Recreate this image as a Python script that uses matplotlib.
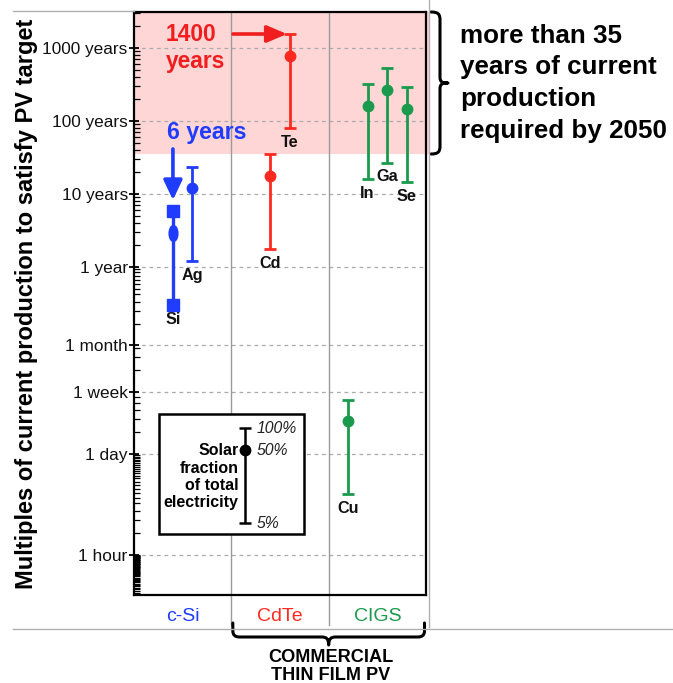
import numpy as np
import matplotlib
matplotlib.use("Agg")
import matplotlib.pyplot as plt
import matplotlib.ticker as mticker
import matplotlib.transforms as mtransforms
from matplotlib.path import Path
from matplotlib.patches import PathPatch, Rectangle
from matplotlib.lines import Line2D

plt.rcParams['font.family'] = ['Liberation Sans', 'DejaVu Sans']

# time units expressed in years
MONTH = 1 / 12
WEEK = 7 / 365.25
DAY = 1 / 365.25
HOUR = 1 / 8766

groups = ['c-Si', 'CdTe', 'CIGS']
group_colors = ['#1f3cff', '#ff2a1f', '#1a9a4c']

elements = ['Si', 'Ag', 'Cd', 'Te', 'Cu', 'In', 'Ga', 'Se']
element_x = [0.40, 0.60, 1.40, 1.60, 2.20, 2.40, 2.60, 2.80]
element_group = [0, 0, 1, 1, 2, 2, 2, 2]
low = [0.296, 1.2, 1.73, 78.7, 0.000769, 15.7, 26.6, 14.6]    # 5% solar fraction
mid = [2.92, 11.9, 17.5, 769, 0.00769, 159, 263, 145]         # 50%
high = [5.85, 23.4, 34.7, 1541, 0.01507, 318, 527, 287]       # 100%

threshold = 35
ylims = (3.18e-5, 3085)

major_ticks = [1000, 100, 10, 1, MONTH, WEEK, DAY, HOUR]
major_labels = ['1000 years', '100 years', '10 years', '1 year',
                '1 month', '1 week', '1 day', '1 hour']

key_fracs = [1.0, 0.5, 0.05]
key_labels = ['100%', '50%', '5%']
key_x = 1.14
key_top = 0.0061

W, H = 673, 683
fig = plt.figure(figsize=(W / 100, H / 100), dpi=100)
ax = fig.add_axes([134 / W, 1 - 595 / H, 292 / W, 583 / H])
# helper: pixel coords measured from top-left of the figure
pxt = mtransforms.Affine2D().scale(1 / W, -1 / H).translate(0, 1) + fig.transFigure

ax.set_yscale('log')
ax.set_ylim(*ylims)
ax.set_xlim(0, 3)
ax.set_axisbelow(True)

# shaded region: more than 35 years
span = ax.axhspan(threshold, ylims[1], xmin=0, xmax=1.012, color='#ffd6d6', lw=0, zorder=0)
span.set_clip_on(False)

# y ticks
ax.yaxis.set_major_locator(mticker.FixedLocator(major_ticks))
ax.yaxis.set_major_formatter(mticker.FixedFormatter(major_labels))
minor = []
minor += [m * 10 ** k for k in range(0, 3) for m in range(2, 10)] + [2000, 3000]
minor += [m * MONTH for m in range(2, 12)]
minor += [w * WEEK for w in range(2, 5)]
minor += [d * DAY for d in range(2, 7)]
minor += [h * HOUR for h in range(2, 24)]
minor += [m * HOUR / 60 for m in range(17, 60)]
ax.yaxis.set_minor_locator(mticker.FixedLocator(minor))
ax.yaxis.set_minor_formatter(mticker.NullFormatter())
ax.tick_params(axis='y', which='major', direction='inout', length=7, width=1.3,
               labelsize=12.4, pad=1, labelcolor='#111111')
ax.tick_params(axis='y', which='minor', direction='in', length=4, width=0.9)
ax.grid(axis='y', which='major', color='#aaaaaa', lw=0.9, linestyle=(0, (3, 3)))

# x categories
ax.set_xticks([0.5, 1.5, 2.5])
ax.set_xticklabels(groups, fontsize=14)
for lab, c in zip(ax.get_xticklabels(), group_colors):
    lab.set_color(c)
ax.tick_params(axis='x', length=0, pad=9.5)

for s in ax.spines.values():
    s.set_linewidth(1.6)

# column separators
for xs in [1, 2]:
    ax.add_line(Line2D([xs, xs], [-0.052, 1], transform=ax.get_xaxis_transform(),
                       color='#9a9a9a', lw=1, clip_on=False, zorder=1))

# element ranges
ellipse = mtransforms.Affine2D().scale(0.55, 1.0).transform_path(Path.unit_circle())
for name, x, g, lo, m, hi in zip(elements, element_x, element_group, low, mid, high):
    c = group_colors[g]
    if name == 'Si':
        ax.plot([x, x], [lo, hi], color=c, lw=2.4, zorder=3)
        ax.plot([x, x], [lo, hi], 's', color=c, ms=8.5, zorder=4)
        ax.plot([x], [m], marker=ellipse, color=c, ms=11.5, lw=0, zorder=4)
    else:
        ax.errorbar([x], [m], yerr=[[m - lo], [hi - m]], fmt='o', color=c, ms=7.5,
                    elinewidth=2, capsize=4.5, capthick=2, zorder=3)
    ax.annotate(name, (x, lo), xytext=(0, -10.3), textcoords='offset points',
                ha='center', va='center', fontsize=11.7, fontweight='bold', color='#111111')

# callouts
ax.text(0.325, 1000, '1400\nyears', color='#f01e1e', fontsize=16.4, fontweight='bold',
        ha='left', va='center', linespacing=1.24)
ax.annotate('', xy=(1.572, high[3]), xytext=(1.017, high[3]),
            arrowprops=dict(arrowstyle='-|>,head_length=0.4,head_width=0.17',
                            mutation_scale=30, lw=2.6, color='#f01e1e',
                            shrinkA=0, shrinkB=0))
ax.text(0.335, 68, '6 years', color='#1f3cff', fontsize=16.7, fontweight='bold',
        ha='left', va='center')
ax.annotate('', xy=(element_x[0], 8.2), xytext=(element_x[0], 41),
            arrowprops=dict(arrowstyle='-|>,head_length=0.4,head_width=0.19',
                            mutation_scale=30, lw=2.6, color='#1f3cff',
                            shrinkA=0, shrinkB=0))

# key box
ax.add_patch(Rectangle((0.0856, 0.1046), 0.4966, 0.2059, transform=ax.transAxes,
                       facecolor='white', edgecolor='black', lw=1.8, zorder=5))
kv = [key_top * f for f in key_fracs]
ax.errorbar([key_x], [kv[1]], yerr=[[kv[1] - kv[2]], [kv[0] - kv[1]]], fmt='o',
            color='black', ms=7.5, elinewidth=1.8, capsize=4.5, capthick=1.8, zorder=6)
for v, t in zip(kv, key_labels):
    ax.annotate(t, (key_x, v), xytext=(8.5, 0), textcoords='offset points', ha='left',
                va='center', fontsize=11.3, fontstyle='italic', color='#222222', zorder=6)
ax.annotate('Solar\nfraction\nof total\nelectricity', (key_x, kv[1]), xytext=(-4.5, 5),
            textcoords='offset points', ha='right', va='top', fontsize=11.5,
            fontweight='bold', linespacing=1.18, zorder=6)

# y label and right-hand note
fig.text(27 / W, 1 - 304 / H, 'Multiples of current production to satisfy PV target',
         rotation=90, ha='center', va='center', fontsize=17, fontweight='bold')
fig.text(460 / W, 1 - 83.3 / H, 'more than 35\nyears of current\nproduction\nrequired by 2050',
         ha='left', va='center', fontsize=18.7, fontweight='bold', linespacing=1.41)
fig.text(330.5 / W, 1 - 666.5 / H, 'COMMERCIAL\nTHIN FILM PV', ha='center', va='center',
         fontsize=13.1, fontweight='bold', linespacing=1.1)

# table lines
for xs, ys in [([13, 673], [629.3, 629.3]), ([13, 134], [11, 11]), ([428.5, 428.5], [0, 627])]:
    fig.add_artist(Line2D(xs, ys, transform=pxt, color='#b0b0b0', lw=1))

# braces, positioned from the axes
fig.canvas.draw()
def to_px(x, y):
    dx, dy = ax.transData.transform((x, y))
    return dx, H - dy

_, y_top = to_px(0, ylims[1])
_, y_thr = to_px(0, threshold)
ym = (y_top + y_thr) / 2
x0, x1, xt = 431, 440, 448
verts = [(x0, y_top), (x1 - 2, y_top), (x1, y_top + 2), (x1, y_top + 8),
         (x1, ym - 6), (x1, ym - 1), (x1 + 2, ym), (xt, ym),
         (x1 + 2, ym), (x1, ym + 1), (x1, ym + 6),
         (x1, y_thr - 8), (x1, y_thr - 2), (x1 - 2, y_thr), (x0, y_thr)]
codes = [Path.MOVETO, Path.CURVE4, Path.CURVE4, Path.CURVE4,
         Path.LINETO, Path.CURVE4, Path.CURVE4, Path.CURVE4,
         Path.CURVE4, Path.CURVE4, Path.CURVE4,
         Path.LINETO, Path.CURVE4, Path.CURVE4, Path.CURVE4]
fig.add_artist(PathPatch(Path(verts, codes), transform=pxt, fill=False, lw=2.2,
                         edgecolor='black', capstyle='round', joinstyle='round'))

bl, _ = to_px(1, 1)
br, _ = to_px(3, 1)
bm = (bl + br) / 2
yb0, yb1, ytip = 623, 637, 645
verts = [(bl + 1.5, yb0), (bl + 1.5, yb1 - 6), (bl + 1.5, yb1), (bl + 8, yb1),
         (bm - 7, yb1), (bm - 2, yb1), (bm, yb1 + 2), (bm, ytip),
         (bm, yb1 + 2), (bm + 2, yb1), (bm + 7, yb1),
         (br - 8, yb1), (br - 1.5, yb1), (br - 1.5, yb1 - 6), (br - 1.5, yb0)]
codes = [Path.MOVETO, Path.LINETO, Path.CURVE3, Path.CURVE3,
         Path.LINETO, Path.CURVE4, Path.CURVE4, Path.CURVE4,
         Path.CURVE4, Path.CURVE4, Path.CURVE4,
         Path.LINETO, Path.CURVE3, Path.CURVE3, Path.LINETO]
fig.add_artist(PathPatch(Path(verts, codes), transform=pxt, fill=False, lw=2.2,
                         edgecolor='black', capstyle='round', joinstyle='round'))

fig.savefig('out.png', dpi=100)
